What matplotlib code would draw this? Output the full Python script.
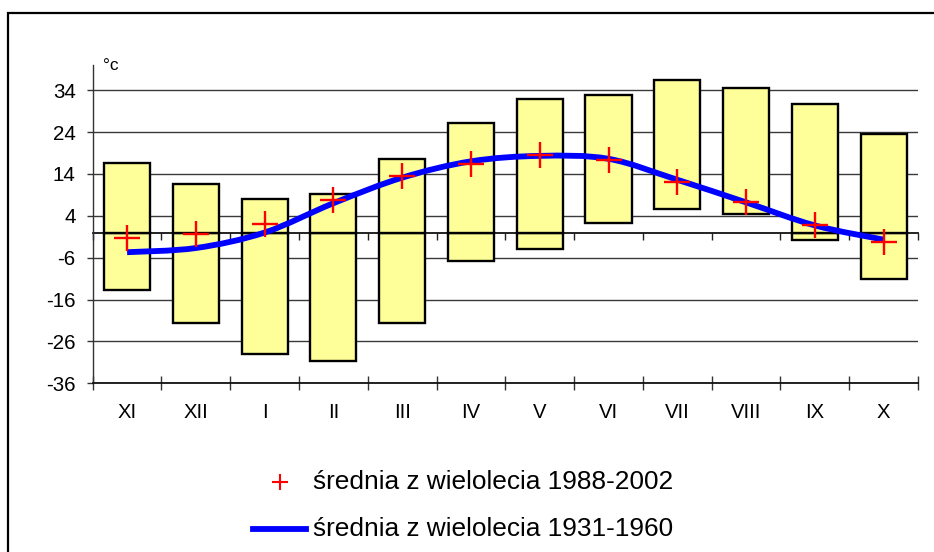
import numpy as np
import matplotlib
matplotlib.use("Agg")
import matplotlib.pyplot as plt
from matplotlib.path import Path
from matplotlib.patches import PathPatch, Rectangle
from matplotlib.lines import Line2D

plt.rcParams['font.family'] = ['Liberation Sans', 'DejaVu Sans']

# months of the hydrological year
months = ['XI', 'XII', 'I', 'II', 'III', 'IV', 'V', 'VI', 'VII', 'VIII', 'IX', 'X']
# absolute min / max temperature (bars)
t_min = [-13.7, -21.7, -29.0, -30.6, -21.5, -6.7, -3.9, 2.3, 5.6, 4.5, -1.7, -11.0]
t_max = [16.7, 11.6, 8.0, 9.2, 17.6, 26.2, 31.9, 32.9, 36.4, 34.5, 30.7, 23.5]
# mean 1988-2002 (red crosses)
mean_1988_2002 = [-1.4, -0.4, 2.0, 7.8, 13.4, 16.3, 18.4, 17.4, 12.1, 7.4, 1.7, -2.3]
# mean 1931-1960 (blue line)
mean_1931_1960 = [-4.7, -3.7, 0.0, 7.0, 13.1, 17.0, 18.3, 17.6, 12.6, 7.2, 1.7, -1.7]

yticks = [-36, -26, -16, -6, 4, 14, 24, 34]

W, H = 934, 552
fig = plt.figure(figsize=(W / 100, H / 100), dpi=100)
ax = fig.add_axes([92.7 / W, 1 - 383.3 / H, (918 - 92.7) / W, (383.3 - 65) / H])

x = np.arange(len(months))
bar_w = 0.67
yellow = '#FFFF99'

# bars split at zero like the stacked Excel bars
for xi, lo, hi in zip(x, t_min, t_max):
    if lo < 0 < hi:
        ax.bar(xi, -lo, bottom=lo, width=bar_w, color=yellow, edgecolor='black', linewidth=1.7, zorder=3)
        ax.bar(xi, hi, bottom=0, width=bar_w, color=yellow, edgecolor='black', linewidth=1.7, zorder=3)
    else:
        ax.bar(xi, hi - lo, bottom=lo, width=bar_w, color=yellow, edgecolor='black', linewidth=1.7, zorder=3)

# smoothed blue line (bezier through the data points)
pts = np.column_stack([x, mean_1931_1960]).astype(float)
verts = [pts[0]]
codes = [Path.MOVETO]
n = len(pts)
for i in range(n - 1):
    p0 = pts[max(i - 1, 0)]
    p1 = pts[i]
    p2 = pts[i + 1]
    p3 = pts[min(i + 2, n - 1)]
    verts += [p1 + (p2 - p0) / 6, p2 - (p3 - p1) / 6, p2]
    codes += [Path.CURVE4] * 3
ax.add_patch(PathPatch(Path(verts, codes), fill=False, edgecolor='#0000FF', linewidth=4.2,
                       capstyle='butt', joinstyle='round', zorder=4))

ax.plot(x, mean_1988_2002, linestyle='none', marker='+', markersize=19, markeredgewidth=1.7,
        color='#FF0000', zorder=5)

ax.set_xlim(-0.5, len(months) - 0.5)
ax.set_ylim(-36, 40)
ax.set_yticks(yticks)
ax.set_yticklabels([str(v) for v in yticks])
ax.grid(axis='y', color='#3a3a3a', linewidth=1.0, zorder=0)
ax.set_axisbelow(True)

ax.set_xticks(np.arange(-0.5, len(months), 1))
ax.set_xticklabels([])
ax.set_xticks(x, minor=True)
ax.set_xticklabels(months, minor=True)
ax.tick_params(axis='x', which='major', direction='inout', length=9.5, width=1, color='#333333')
ax.tick_params(axis='x', which='minor', length=0, pad=14, labelsize=14.6)
ax.tick_params(axis='y', direction='out', length=4.3, width=1, color='#333333', pad=8, labelsize=14.8)

for s in ['top', 'right']:
    ax.spines[s].set_visible(False)
ax.spines['left'].set_color('#333333')
ax.spines['bottom'].set_color('#111111')
ax.spines['left'].set_linewidth(1)
ax.spines['bottom'].set_linewidth(1.3)

# category axis crossing at zero
ax0 = ax.twiny()
ax0.set_xlim(ax.get_xlim())
ax0.spines['bottom'].set_position(('data', 0))
ax0.xaxis.set_ticks_position('bottom')
ax0.set_xticks(np.arange(-0.5, len(months), 1))
ax0.set_xticklabels([])
ax0.tick_params(axis='x', direction='out', length=5, width=1, color='#222222')
for s in ['top', 'right', 'left']:
    ax0.spines[s].set_visible(False)
ax0.spines['bottom'].set_color('#111111')
ax0.spines['bottom'].set_linewidth(1.3)
ax0.set_zorder(ax.get_zorder() - 1)
ax.patch.set_visible(False)

fig.text(111 / W, 1 - 66 / H, '°c', ha='center', va='center', fontsize=12.5)

# legend
fig.add_artist(Line2D([279.5 / W], [1 - 482 / H], marker='+', markersize=11.5, markeredgewidth=1.5,
                      color='#FF0000', linestyle='none', transform=fig.transFigure))
fig.add_artist(Line2D([253 / W, 306 / W], [1 - 529 / H, 1 - 529 / H], color='#0000FF', linewidth=4.2,
                      transform=fig.transFigure))
fig.text(313 / W, 1 - 482 / H, 'średnia z wielolecia 1988-2002', ha='left', va='center', fontsize=18.9)
fig.text(313 / W, 1 - 529 / H, 'średnia z wielolecia 1931-1960', ha='left', va='center', fontsize=18.9)

# chart area frame
fig.add_artist(Rectangle((7.5 / W, -0.1), 1.2, 1.1 - 12.5 / H, fill=False, edgecolor='black',
                         linewidth=1.6, transform=fig.transFigure))

fig.savefig('out.png', dpi=100)
